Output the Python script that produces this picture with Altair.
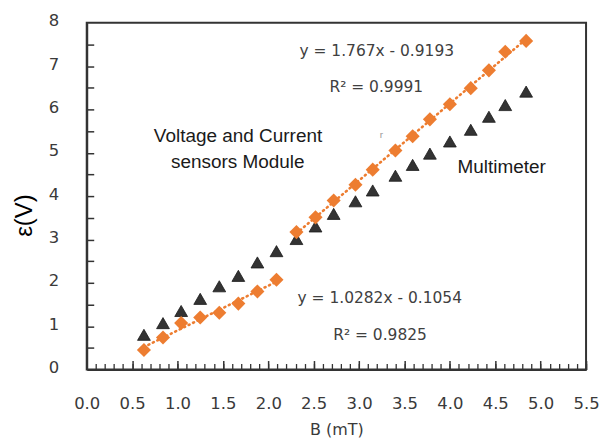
import altair as alt
import pandas as pd

# ---- data ----
B_mT = [0.63, 0.84, 1.04, 1.25, 1.46, 1.67, 1.88, 2.09, 2.31, 2.52, 2.72,
        2.96, 3.15, 3.40, 3.59, 3.78, 4.00, 4.23, 4.43, 4.61, 4.84]
sensor_V = [0.45, 0.74, 1.07, 1.20, 1.31, 1.52, 1.80, 2.07, 3.17, 3.51, 3.90,
            4.26, 4.61, 5.05, 5.38, 5.77, 6.12, 6.49, 6.90, 7.33, 7.58]
meter_V = [0.80, 1.07, 1.35, 1.63, 1.92, 2.16, 2.47, 2.73, 3.01, 3.30, 3.59,
           3.88, 4.13, 4.47, 4.72, 4.98, 5.26, 5.53, 5.83, 6.10, 6.41]
fit_segment = [1, 1, 1, 1, 1, 1, 1, 1, 2, 2, 2,
               2, 2, 2, 2, 2, 2, 2, 2, 2, 2]

x_tick_labels = [0.0, 0.5, 1.0, 1.5, 2.0, 2.5, 3.0, 3.5, 4.0, 4.5, 5.0, 5.5]
x_minor_ticks = [round(i * 0.1, 1) for i in range(56)]
y_tick_labels = [0, 1, 2, 3, 4, 5, 6, 7, 8]
y_minor_ticks = [0.5, 1, 1.5, 2, 2.5, 3, 3.5, 4, 4.5, 5, 5.5, 6, 6.5, 7, 7.5]

eq_upper = "y = 1.767x - 0.9193"
r2_upper = "R² = 0.9991"
eq_lower = "y = 1.0282x - 0.1054"
r2_lower = "R² = 0.9825"
label_sensor = ["Voltage and Current", "sensors Module"]
label_meter = "Multimeter"

ORANGE = "#ED7D31"
DARK = "#333333"

df = pd.DataFrame({"B": B_mT, "sensor": sensor_V, "meter": meter_V, "seg": fit_segment})

xs = alt.Scale(domain=[0, 5.5], nice=False, zero=False)
ys = alt.Scale(domain=[0, 8], nice=False)

axis_x_labels = alt.Axis(
    orient="bottom", values=x_tick_labels, format=".1f", ticks=False, tickSize=0,
    domain=True, domainColor=DARK, domainWidth=2, grid=False, labelFlush=False,
    labelFont="DejaVu Sans", labelFontSize=16.5, labelColor="#3a3a3a", labelPadding=26,
    title="B (mT)", titleFont="DejaVu Sans", titleFontSize=16, titleFontWeight="normal",
    titleColor="#3a3a3a", titleY=65, titleBaseline="alphabetic")
axis_x_minor = alt.Axis(
    orient="bottom", values=x_minor_ticks, offset=-6, tickSize=6, tickWidth=1.3,
    tickColor=DARK, labels=False, domain=False, grid=False, title=None)
axis_x_major = alt.Axis(
    orient="bottom", values=x_tick_labels, offset=-9, tickSize=9, tickWidth=1.5,
    tickColor=DARK, labels=False, domain=False, grid=False, title=None)

axis_y_labels = alt.Axis(
    orient="left", values=y_tick_labels, format="d", ticks=False, tickSize=0,
    domain=True, domainColor=DARK, domainWidth=2, grid=False, labelFlush=False,
    labelFont="DejaVu Sans", labelFontSize=16.5, labelColor="#3a3a3a", labelPadding=28,
    labelOffset=-2,
    title="ε(V)", titleFont="Liberation Sans", titleFontSize=24, titleFontWeight="normal",
    titleColor="#000000", titleX=-62, titleY=193, titleBaseline="middle", titleAlign="center")
axis_y_ticks = alt.Axis(
    orient="left", values=y_minor_ticks, offset=-7, tickSize=7, tickWidth=1.5,
    tickColor=DARK, labels=False, domain=False, grid=False, title=None)

base = alt.Chart(df)

trend = base.transform_regression("B", "sensor", groupby=["seg"]).mark_line(
    color=ORANGE, strokeWidth=2.6, strokeDash=[1, 4], strokeCap="round"
).encode(
    x=alt.X("B:Q", scale=xs, axis=axis_x_major),
    y=alt.Y("sensor:Q", scale=ys, axis=axis_y_ticks),
    detail="seg:N",
)

meter = base.mark_point(shape="triangle-up", filled=True, size=165, color=DARK,
                        stroke="#1a1a1a", strokeWidth=0.8, opacity=1).encode(
    x=alt.X("B:Q", scale=xs, axis=axis_x_labels),
    y=alt.Y("meter:Q", scale=ys, axis=axis_y_labels),
)

sensor = base.mark_point(shape="diamond", filled=True, size=200, color=ORANGE,
                         opacity=1).encode(
    x=alt.X("B:Q", scale=xs, axis=axis_x_minor),
    y=alt.Y("sensor:Q", scale=ys, axis=None),
)


def note(txt, x, y, font, size, color):
    return alt.Chart(alt.Data(values=[{}])).mark_text(
        align="center", baseline="alphabetic", font=font, fontSize=size, color=color
    ).encode(x=alt.value(x), y=alt.value(y), text=alt.value(txt))


notes = [
    note(eq_upper, 291, 33, "DejaVu Sans", 15.5, "#404040"),
    note(r2_upper, 290.5, 69.7, "DejaVu Sans", 15.5, "#404040"),
    note(eq_lower, 294, 281.3, "DejaVu Sans", 15.5, "#404040"),
    note(r2_lower, 294.3, 318, "DejaVu Sans", 15.5, "#404040"),
    note(label_sensor[0], 151.8, 119.7, "Liberation Sans", 19, "#1a1a1a"),
    note(label_sensor[1], 151.5, 146.3, "Liberation Sans", 19, "#1a1a1a"),
    note(label_meter, 416.3, 151.3, "Liberation Sans", 19, "#1a1a1a"),
    note("r", 295.7, 116, "Liberation Sans", 10, "#999999"),
]

chart = alt.layer(trend, meter, sensor, *notes).resolve_axis(
    x="independent", y="independent"
).properties(
    width=501, height=348,
    autosize=alt.AutoSizeParams(type="none"),
    padding={"left": 79, "top": 14, "right": 16, "bottom": 70},
).configure_view(stroke=DARK, strokeWidth=2)

chart.save("out.html", embed_options={"renderer": "svg", "actions": False})
